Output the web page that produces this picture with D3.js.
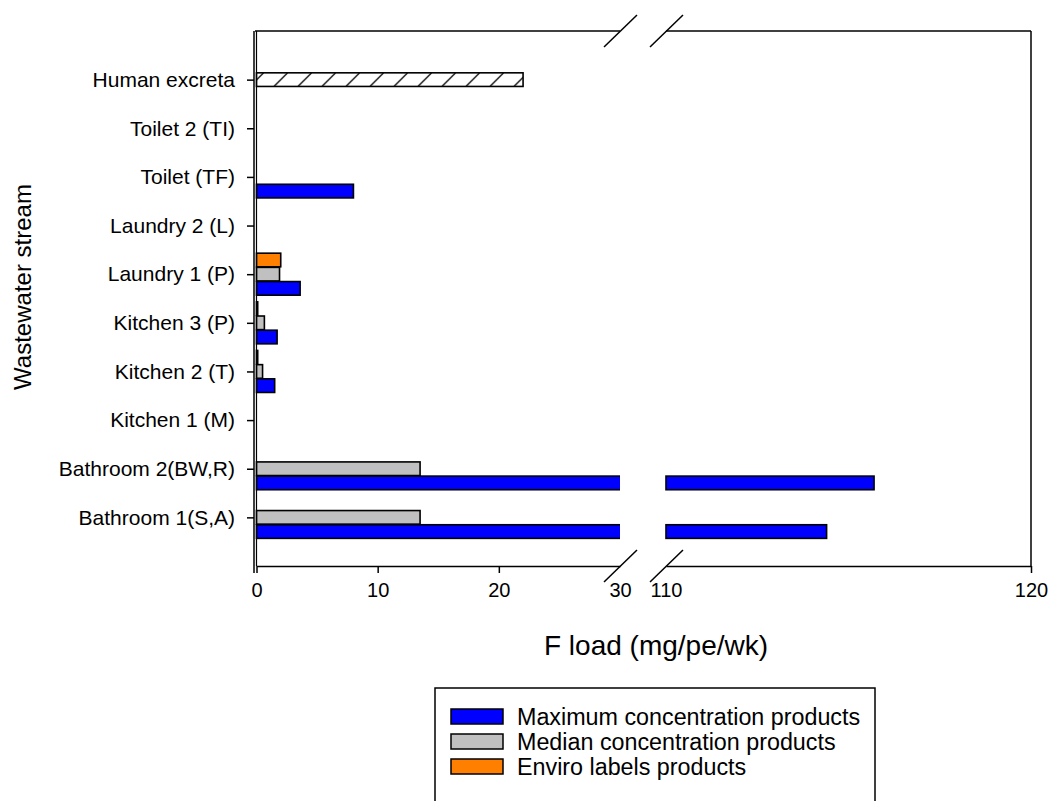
<!DOCTYPE html>
<html>
<head>
<meta charset="utf-8">
<script src="https://cdn.jsdelivr.net/npm/d3@7"></script>
<style>
    body { margin: 0; background: #fff; }
    svg { font-family: "Liberation Sans", Arial, sans-serif; }
    .tick text { font-size: 20px; fill: #000; }
    .y-axis .tick text { font-size: 21px; }
    .axis-label { font-size: 24px; fill: #000; }
    .x-label { font-size: 28px; }
    .legend-text { font-size: 23.3px; fill: #000; }
</style>
</head>
<body>
<svg id="chart" width="1049" height="801"></svg>
<script>
// wastewater streams, bottom to top
const categories = ['Bathroom 1(S,A)', 'Bathroom 2(BW,R)', 'Kitchen 1 (M)', 'Kitchen 2 (T)', 'Kitchen 3 (P)',
    'Laundry 1 (P)', 'Laundry 2 (L)', 'Toilet (TF)', 'Toilet 2 (TI)', 'Human excreta']
const maxConc = [114.4, 115.7, 0, 1.5, 1.7, 3.6, 0, 8.0, 0, 0]
const medianConc = [13.5, 13.5, 0, 0.5, 0.65, 1.9, 0, 0, 0, 0]
const enviroLabels = [0, 0, 0, 0.1, 0.1, 2.0, 0, 0, 0, 0]
const excreta = [0, 0, 0, 0, 0, 0, 0, 0, 0, 22.0]

const lowTicks = [0, 10, 20, 30]
const highTicks = [110, 120]

const series = [
    { key: 'enviro', name: 'Enviro labels products', color: '#ff8000', values: enviroLabels },
    { key: 'median', name: 'Median concentration products', color: '#c0c0c0', values: medianConc },
    { key: 'max', name: 'Maximum concentration products', color: '#0000ff', values: maxConc }
]

const svg = d3.select('#chart')

const DIM = {
    left: 255,
    top: 31,
    bottom: 566,
    breakLeft: 620,
    breakRight: 666,
    right: 1031
}

// broken x axis: two linear segments
const x1 = d3.scaleLinear().domain([0, 30]).range([DIM.left + 1.5, DIM.breakLeft])
const x2 = d3.scaleLinear().domain([110, 120]).range([DIM.breakRight, DIM.right])

const y = d3.scalePoint().domain(categories).range([DIM.bottom, DIM.top]).padding(1)
const slot = d3.scaleBand().domain(['enviro', 'median', 'max']).range([-21, 21]).paddingInner(0.04)

const defs = svg.append('defs')
defs.append('clipPath').attr('id', 'clip-low')
    .append('rect')
    .attr('x', DIM.left).attr('y', DIM.top)
    .attr('width', DIM.breakLeft - DIM.left).attr('height', DIM.bottom - DIM.top)
defs.append('clipPath').attr('id', 'clip-high')
    .append('rect')
    .attr('x', DIM.breakRight - 1).attr('y', DIM.top)
    .attr('width', DIM.right - DIM.breakRight + 1).attr('height', DIM.bottom - DIM.top)

const hatch = defs.append('pattern')
    .attr('id', 'hatch')
    .attr('patternUnits', 'userSpaceOnUse')
    .attr('width', 24).attr('height', slot.bandwidth())
    .attr('y', y('Human excreta') + slot('median'))
hatch.append('rect').attr('width', 24).attr('height', slot.bandwidth()).attr('fill', '#fff')
hatch.append('line')
    .attr('x1', 10).attr('y1', slot.bandwidth())
    .attr('x2', 10 + slot.bandwidth()).attr('y2', 0)
    .attr('stroke', '#000').attr('stroke-width', 1.3)

// flatten bar data
let bars = []
series.forEach(s => {
    s.values.forEach((v, i) => {
        if (v > 0) bars.push({ cat: categories[i], key: s.key, value: v, fill: s.color })
    })
})
excreta.forEach((v, i) => {
    if (v > 0) bars.push({ cat: categories[i], key: 'median', value: v, fill: 'url(#hatch)' })
})

const lowGroup = svg.append('g').attr('clip-path', 'url(#clip-low)')
lowGroup.selectAll('rect')
    .data(bars)
    .join('rect')
    .attr('x', x1(0))
    .attr('y', d => y(d.cat) + slot(d.key))
    .attr('width', d => Math.min(x1(d.value), DIM.breakLeft + 5) - x1(0))
    .attr('height', slot.bandwidth())
    .attr('fill', d => d.fill)
    .attr('stroke', '#000')
    .attr('stroke-width', 1.6)

const highGroup = svg.append('g').attr('clip-path', 'url(#clip-high)')
highGroup.selectAll('rect')
    .data(bars.filter(d => d.value > 110))
    .join('rect')
    .attr('x', x2(110))
    .attr('y', d => y(d.cat) + slot(d.key))
    .attr('width', d => x2(d.value) - x2(110))
    .attr('height', slot.bandwidth())
    .attr('fill', d => d.fill)
    .attr('stroke', '#000')
    .attr('stroke-width', 1.6)

// axes
const xAxisLow = svg.append('g')
    .attr('transform', `translate(0, ${DIM.bottom})`)
    .call(d3.axisBottom(x1).tickValues(lowTicks).tickSize(7).tickSizeOuter(0).tickPadding(10))
const xAxisHigh = svg.append('g')
    .attr('transform', `translate(0, ${DIM.bottom})`)
    .call(d3.axisBottom(x2).tickValues(highTicks).tickSize(7).tickSizeOuter(0).tickPadding(10))
xAxisLow.selectAll('.tick').filter(d => d === 30).select('line').remove()
xAxisHigh.selectAll('.tick').filter(d => d === 110).select('line').remove()

const yAxis = svg.append('g')
    .attr('class', 'y-axis')
    .attr('transform', `translate(${DIM.left - 1}, 0)`)
    .call(d3.axisLeft(y).tickSize(7).tickSizeOuter(0).tickPadding(12))
yAxis.select('.domain').attr('d', `M0,${DIM.top}V${DIM.bottom + 7}`)

svg.selectAll('.domain, .tick line').attr('stroke', '#000').attr('stroke-width', 1.5)

// second line of the left axis
svg.append('line')
    .attr('x1', x1(0)).attr('x2', x1(0))
    .attr('y1', DIM.top).attr('y2', DIM.bottom)
    .attr('stroke', '#000').attr('stroke-width', 1.2)

// top frame and right frame
const frame = svg.append('g').attr('stroke', '#000').attr('stroke-width', 1.5).attr('fill', 'none')
frame.append('line').attr('x1', DIM.left).attr('x2', x1(30)).attr('y1', DIM.top).attr('y2', DIM.top)
frame.append('line').attr('x1', x2(110)).attr('x2', x2(120)).attr('y1', DIM.top).attr('y2', DIM.top)
frame.append('line').attr('x1', x2(120)).attr('x2', x2(120)).attr('y1', DIM.top).attr('y2', DIM.bottom)

// break marks
const breakYs = [DIM.top, DIM.bottom]
const breakXs = [x1(30), x2(110)]
breakYs.forEach(by => {
    breakXs.forEach(bx => {
        frame.append('line')
            .attr('x1', bx - 16).attr('y1', by + 16)
            .attr('x2', bx + 17).attr('y2', by - 16)
    })
})

// axis titles
svg.append('text')
    .attr('class', 'axis-label x-label')
    .attr('x', 656)
    .attr('y', 655)
    .attr('text-anchor', 'middle')
    .text('F load (mg/pe/wk)')

svg.append('text')
    .attr('class', 'axis-label')
    .attr('transform', 'translate(31, 287) rotate(-90)')
    .attr('text-anchor', 'middle')
    .text('Wastewater stream')

// legend
const legend = svg.append('g').attr('transform', 'translate(435, 688)')
legend.append('rect')
    .attr('width', 440).attr('height', 125)
    .attr('fill', '#fff').attr('stroke', '#000').attr('stroke-width', 1.5)

const legendOrder = [series[2], series[1], series[0]]
const legendItems = legend.selectAll('.legend-item')
    .data(legendOrder)
    .join('g')
    .attr('class', 'legend-item')
    .attr('transform', (d, i) => `translate(16, ${21 + i * 25})`)
legendItems.append('rect')
    .attr('width', 52).attr('height', 15)
    .attr('fill', d => d.color)
    .attr('stroke', '#000').attr('stroke-width', 1.5)
legendItems.append('text')
    .attr('class', 'legend-text')
    .attr('x', 66)
    .attr('y', 8)
    .attr('dy', '0.35em')
    .text(d => d.name)
</script>
</body>
</html>
